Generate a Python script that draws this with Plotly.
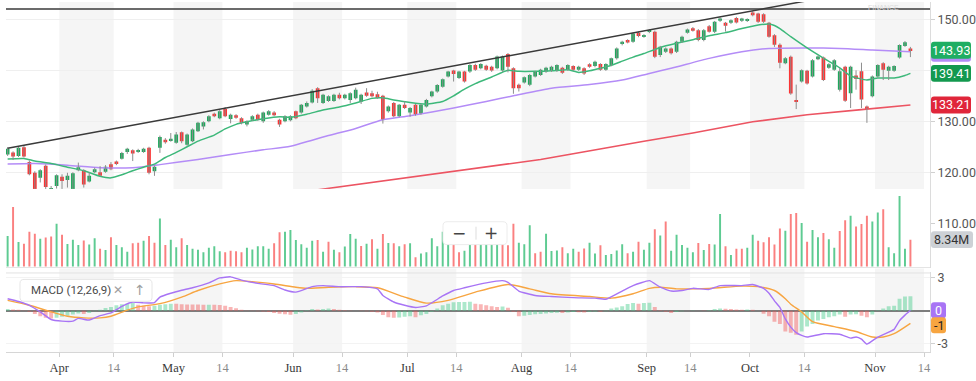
import pandas as pd
import plotly.graph_objects as go

# ---------------- data ----------------
holidays = ["2018-03-30", "2018-05-28", "2018-07-04", "2018-09-03"]
dates = list(pd.bdate_range("2018-03-16", "2018-11-14", freq="C", holidays=holidays))

opens = [123.5,123.9,123.2,124.9,122.0,119.9,118.9,121.3,116.3,117.3,
 119.1,118.5,116.7,120.4,120.4,118.2,120.0,120.0,120.1,121.55,
 122.1,122.65,124.0,124.3,124.0,124.0,124.8,120.2,124.8,126.4,
 126.3,125.8,127.85,125.4,126.1,128.05,129.0,130.0,131.5,130.6,
 132.4,130.45,131.2,130.6,129.35,130.3,131.3,130.0,131.3,131.75,
 130.3,130.0,130.2,131.95,131.75,132.9,133.7,136.5,133.6,134.0,
 134.0,135.2,134.5,134.2,134.5,133.9,135.65,135.5,135.3,135.0,
 131.95,133.6,131.0,133.25,131.75,133.25,131.5,132.9,134.9,135.85,
 136.8,138.8,139.95,138.5,139.75,139.75,141.05,140.4,140.9,140.7,
 140.4,139.95,143.2,140.4,137.15,137.6,137.15,138.8,139.1,139.75,
 139.95,139.95,140.5,140.1,140.85,140.1,140.4,141.2,140.85,141.25,
 140.1,141.05,142.35,145.15,145.94,145.6,147.37,146.6,147.56,147.56,
 143.0,143.66,144.3,143.66,145.6,147.37,148.28,147.89,145.94,148.67,
 147.56,149.71,149.32,149.32,150.29,149.71,149.71,151.33,151.13,151.0,
 149.32,146.9,145.0,141.38,142.68,134.1,137.8,139.9,138.8,142.2,
 142.5,140.5,140.1,136.2,140.7,135.5,138.98,139.8,132.9,134.9,
 138.8,141.4,139.9,139.9,142.5,144.8,144.3]
closes = [124.6,123.1,124.8,123.1,119.6,116.7,120.4,117.1,116.9,119.4,
 118.3,119.3,119.8,121.0,117.6,119.3,120.6,119.3,121.1,120.6,
 121.6,123.8,124.6,123.7,124.3,124.6,119.9,121.1,126.9,125.9,
 126.6,127.4,126.1,127.4,128.4,129.7,129.8,131.0,131.0,131.95,
 131.0,131.3,130.7,129.7,130.0,131.0,130.3,131.75,131.95,131.2,
 129.35,131.0,131.0,130.6,133.25,133.6,136.0,134.5,135.2,134.9,
 135.2,134.5,135.2,135.5,136.2,135.2,135.0,134.9,134.6,130.3,
 132.9,131.0,133.25,132.6,132.6,131.3,133.25,134.2,135.85,137.1,
 138.25,139.75,139.3,139.75,137.8,141.05,140.1,141.25,140.1,139.95,
 142.7,142.7,140.7,136.5,136.5,138.65,139.1,139.75,140.1,140.5,
 140.7,141.05,139.55,141.05,140.1,140.7,139.4,140.7,141.7,140.1,
 141.25,142.35,144.3,145.6,145.48,147.23,146.72,146.9,147.89,142.68,
 144.63,144.3,143.33,145.6,146.59,148.02,147.76,145.94,147.89,147.56,
 149.51,150.16,148.73,149.84,149.38,150.16,150.03,150.82,149.51,149.51,
 146.6,145.0,141.5,142.35,135.45,133.8,140.0,137.4,142.0,142.7,
 138.1,141.2,142.0,139.8,134.05,140.7,138.3,134.3,132.6,138.8,
 141.05,140.1,140.7,140.86,144.96,145.5,143.93]
highs = [124.9,124.1,125.0,125.2,122.3,120.2,120.6,121.5,117.3,119.6,
 119.6,119.9,120.0,121.9,120.6,120.0,120.9,121.2,121.4,122.0,
 122.3,124.0,124.8,124.5,124.6,124.8,125.0,121.3,127.2,126.7,
 127.7,127.9,128.0,127.6,128.6,129.9,130.0,131.2,131.7,132.2,
 132.8,131.5,131.4,130.8,130.2,131.2,131.5,131.9,132.2,132.0,
 130.5,131.2,131.2,132.1,133.4,133.9,136.3,136.7,135.4,135.1,
 135.4,135.6,135.4,135.7,136.6,135.4,136.5,136.0,135.8,135.2,
 133.1,133.8,133.4,133.9,132.8,133.4,133.4,134.4,136.0,137.3,
 138.4,139.9,140.1,139.9,139.9,141.2,141.3,141.4,141.1,140.9,
 142.9,142.9,143.4,140.6,137.4,138.8,139.3,139.9,140.3,140.7,
 140.9,141.2,140.7,141.2,141.0,140.9,140.6,141.4,141.9,141.4,
 141.4,142.5,144.5,145.8,146.1,147.4,147.6,147.1,148.1,147.8,
 144.8,144.5,144.5,145.8,146.8,148.2,148.5,148.1,148.1,148.9,
 149.7,150.4,149.5,150.0,150.5,150.3,150.2,151.6,151.3,151.2,
 149.5,147.1,145.3,142.6,142.9,137.2,140.2,140.1,142.2,142.9,
 142.7,141.4,142.2,140.4,140.9,140.9,140.0,141.5,133.1,139.0,
 141.2,141.6,140.9,141.0,145.1,145.75,144.6]
lows = [123.2,122.4,123.0,122.9,119.4,116.5,118.0,116.7,115.9,116.8,
 116.7,117.0,116.5,120.2,117.0,118.0,119.8,119.2,119.9,120.4,
 121.4,122.5,123.6,122.2,123.8,123.8,119.6,119.3,123.8,125.6,
 126.0,125.6,125.7,125.2,125.9,127.9,128.4,129.8,130.8,130.4,
 130.8,129.6,130.5,129.4,129.0,130.1,130.1,129.7,131.1,131.0,
 128.9,129.8,130.0,130.4,131.5,132.7,133.5,133.6,133.4,133.8,
 133.8,134.3,134.3,133.6,134.3,133.4,134.8,134.7,134.4,129.55,
 131.7,130.8,130.8,132.4,130.9,131.1,131.3,132.7,134.7,135.6,
 136.6,138.6,137.8,138.3,137.6,139.5,139.9,140.2,139.9,139.7,
 140.2,139.7,139.6,135.4,135.85,137.4,136.9,138.6,138.9,139.5,
 139.7,139.7,139.3,139.9,139.9,139.9,139.1,140.5,140.6,139.9,
 139.9,140.8,142.1,144.9,145.3,145.4,146.5,146.4,147.3,142.4,
 142.6,143.4,143.1,143.4,145.4,147.2,147.6,145.7,145.7,147.4,
 147.3,149.5,147.6,149.1,149.2,149.5,149.5,150.6,149.3,149.3,
 146.4,144.6,140.4,141.2,135.2,132.4,137.6,137.2,138.6,142.0,
 137.9,140.3,139.9,135.85,133.8,132.6,136.2,132.6,129.7,134.7,
 138.6,138.1,138.1,139.7,142.3,144.6,142.6]

volume_m = [9.5,18.5,7.6,7.1,10.8,10.2,8.6,9.0,9.3,13.3,
 9.9,7.0,8.3,6.7,8.1,6.8,8.8,5.5,5.1,9.1,
 6.7,6.0,4.6,7.2,7.4,8.0,9.5,7.4,14.9,6.7,
 8.3,6.0,8.8,6.7,5.5,5.2,4.4,5.8,6.3,4.7,
 4.4,4.9,4.7,4.4,5.8,5.3,6.3,6.3,5.5,7.2,
 10.6,10.8,11.3,8.2,6.9,5.8,8.0,8.2,4.6,7.7,
 5.2,4.4,6.2,10.1,8.6,6.4,7.1,8.5,5.5,10.1,
 7.3,7.2,6.3,6.9,7.2,2.9,4.0,4.4,8.8,6.3,
 10.8,8.8,7.5,4.4,4.9,6.7,8.5,9.0,8.2,9.4,
 8.8,9.0,6.6,13.3,7.4,6.9,12.8,4.1,4.6,10.2,
 4.8,5.0,6.0,4.1,5.5,4.6,5.6,7.4,4.0,6.6,
 3.6,3.9,5.0,6.9,4.1,4.6,7.7,5.2,7.4,11.6,
 9.6,14.0,4.9,9.9,6.7,5.8,4.4,7.3,5.1,7.0,
 6.8,16.3,6.3,3.6,5.5,5.5,5.8,9.9,8.0,7.5,
 9.1,6.8,11.8,11.1,16.3,16.6,13.5,7.7,11.3,9.1,
 10.4,8.5,5.8,11.0,14.4,15.8,12.4,13.2,15.8,14.0,
 16.8,17.8,6.0,4.1,21.9,5.5,8.34]
volume_dir = list("grgrrrgrrg" "rgggrggrgr" "gggrrgrrgr" "ggrggggggg" "rrrrgggggr"
                  "rggggggrgr" "grgggrgrgr" "grgrgrgggg" "ggrrggrggg" "grrrgggrrg"
                  "ggrggrrggr" "ggggrgrggr" "grgggggrgr" "ggrgrrggrr" "rrrgrrgrgg"
                  "rggrrgrrrg" "grggggr")

ma20_idx = [0,3,5,8,11,14,17,19,21,23,25,27,29,31,33,35,38,40,42,44,47,50,52,55,58,61,64,67,69,71,
            74,77,80,82,84,86,89,92,94,97,100,103,105,107,109,111,113,115,117,120,123,126,129,132,135,
            138,140,141,142,144,147,150,153,155,158,160,163,165,166]
ma20_val = [122.6,122.7,122.2,121.7,121.0,120.3,119.2,118.9,119.5,120.3,121.0,121.6,122.9,123.9,125.0,
            126.1,127.3,128.5,129.4,129.9,130.5,130.9,130.8,131.4,132.2,132.8,133.6,134.5,134.6,134.2,
            133.7,133.4,133.9,135.0,136.3,137.4,138.7,140.0,139.8,139.8,139.9,140.1,139.6,139.9,140.4,
            141.0,141.8,142.6,143.3,144.5,145.3,146.0,146.8,147.4,148.2,148.9,149.1,148.8,148.2,146.6,
            144.4,142.4,140.5,138.9,138.1,138.5,138.5,139.0,139.41]
ma50_idx = [0,5,11,17,23,28,35,41,47,52,56,59,64,69,74,82,88,93,100,107,113,118,122,129,135,140,147,153,159,166]
ma50_val = [121.6,121.7,121.4,120.9,120.9,121.5,122.5,123.5,124.4,125.1,126.3,127.2,128.6,130.3,131.1,
            132.6,133.9,135.0,136.5,137.2,138.1,139.4,140.4,142.35,143.66,144.3,144.4,144.3,144.0,143.66]
ma200_idx = [0,20,41,59,78,98,117,126,137,147,157,166]
ma200_val = [108.3,111.2,114.3,116.9,119.6,122.5,126.1,127.7,129.9,131.3,132.3,133.21]

trend_idx = [0, 166]
trend_val = [124.7, 157.4]
resistance_level = 152.05

macd_idx = [0,2,4,6,8,10,12,13,15,17,19,21,23,25,27,28,30,32,34,37,39,41,43,46,49,51,53,56,58,61,65,68,69,
            71,73,75,77,80,82,84,88,91,92,94,97,100,104,108,110,113,115,118,120,122,124,126,129,131,135,137,
            139,140,141,142,143,144,145,146,147,150,153,155,156,157,158,160,163,164,165,166]
macd_val = [1.1,0.85,0.5,-0.1,-0.8,-0.95,-0.95,-0.7,-0.85,-0.45,-0.2,0.4,0.8,0.72,0.75,1.25,1.6,1.87,2.1,
            2.55,3.0,3.1,2.8,2.5,2.3,1.9,1.7,2.2,2.3,2.2,2.2,2.0,1.4,0.8,0.5,0.3,0.45,1.35,1.85,2.1,2.55,
            2.75,2.6,1.8,1.4,1.3,1.2,1.15,1.05,1.8,2.3,2.75,2.15,1.8,1.85,2.05,1.95,2.3,2.3,2.4,2.05,1.6,
            0.9,0.3,-0.75,-1.5,-2.0,-2.25,-2.4,-2.1,-2.15,-2.5,-2.4,-2.6,-3.05,-2.4,-1.7,-0.9,-0.4,0.05]
signal_idx = [0,4,8,11,14,17,19,22,24,28,32,35,39,42,45,49,53,55,59,64,68,73,77,81,86,92,96,100,107,111,
              115,118,120,123,129,135,138,141,143,144,146,148,152,156,159,161,163,166]
signal_val = [0.95,0.5,-0.1,-0.5,-0.65,-0.65,-0.5,0.05,0.35,0.65,1.25,1.85,2.45,2.75,2.65,2.45,2.15,2.05,
              2.15,2.2,2.1,1.25,0.7,0.95,1.7,2.4,2.0,1.55,1.3,1.15,1.55,2.05,2.15,2.0,2.05,2.25,2.2,1.85,
              1.1,0.6,-0.1,-1.0,-1.45,-1.9,-2.4,-2.4,-2.1,-1.15]
histogram = [0.15,0.12,0.08,0.02,-0.1,-0.3,-0.5,-0.65,-0.72,-0.65,
 -0.55,-0.45,-0.35,-0.25,-0.3,-0.2,-0.05,0.1,0.25,0.35,
 0.5,0.6,0.65,0.7,0.55,0.45,0.4,0.45,0.55,0.6,
 0.65,0.63,0.6,0.58,0.57,0.56,0.55,0.55,0.54,0.52,
 0.45,0.35,0.22,0.1,0.02,-0.03,-0.05,-0.08,-0.12,-0.2,
 -0.28,-0.33,-0.36,-0.3,-0.15,0.05,0.15,0.12,0.17,0.2,
 0.15,0.1,0.05,0.03,0.0,-0.03,-0.05,-0.1,-0.15,-0.4,
 -0.6,-0.65,-0.62,-0.55,-0.5,-0.6,-0.42,-0.3,-0.1,0.2,
 0.5,0.65,0.78,0.8,0.8,0.82,0.65,0.6,0.5,0.4,
 0.35,0.38,0.28,-0.1,-0.5,-0.45,-0.38,-0.32,-0.3,-0.25,
 -0.2,-0.18,-0.2,-0.15,-0.12,-0.13,-0.15,-0.1,-0.08,-0.1,
 -0.05,0.2,0.3,0.4,0.62,0.7,0.65,0.7,0.72,0.35,
 0.05,-0.1,-0.2,-0.12,-0.05,0.0,0.03,0.0,-0.02,0.05,
 0.15,0.2,0.18,0.15,0.12,0.1,0.12,0.1,0.0,-0.27,
 -0.5,-1.0,-1.2,-1.9,-2.0,-2.2,-1.9,-1.45,-1.2,-0.9,
 -0.75,-0.6,-0.5,-0.35,-0.55,-0.35,-0.33,-0.45,-0.6,-0.35,
 0.05,0.2,0.4,0.45,1.1,1.3,1.32]

tick_dates = ["2018-04-02","2018-04-16","2018-05-01","2018-05-14","2018-06-01","2018-06-14",
              "2018-07-02","2018-07-16","2018-08-01","2018-08-14","2018-09-04","2018-09-14",
              "2018-10-01","2018-10-15","2018-11-01","2018-11-14"]
tick_labels = ["Apr","14","May","14","Jun","14","Jul","14","Aug","14","Sep","14","Oct","14","Nov","14"]

# ---------------- layout geometry ----------------
W, H = 976, 381
ML, MR, MT, MB = 6, 46, 0, 29
PW, PH = W - ML - MR, H - MT - MB          # 924 x 352
X_RANGE = [-0.3, 169.6]
PRICE_RANGE = [101.12, 153.41]
VOL_RANGE = [-0.618, 24.1]
MACD_RANGE = [-3.77, 3.5]
PRICE_DOM = [1 - 268 / PH, 1]
VOL_DOM = [1 - 268 / PH, 1 - 188 / PH]
MACD_DOM = [0, 80 / PH]

def px2paper(px):
    return (px - ML) / PW

def py2paper(py):
    return (PH - (py - MT)) / PH

def val2py(v, rng, dom):
    top = (1 - dom[1]) * PH
    bot = (1 - dom[0]) * PH
    return top + (rng[1] - v) / (rng[1] - rng[0]) * (bot - top)

def rrect(x0, y0, x1, y1, r):
    P = lambda x, y: f"{px2paper(x):.5f},{py2paper(y):.5f}"
    return (f"M {P(x0 + r, y0)} L {P(x1 - r, y0)} Q {P(x1, y0)} {P(x1, y0 + r)} "
            f"L {P(x1, y1 - r)} Q {P(x1, y1)} {P(x1 - r, y1)} L {P(x0 + r, y1)} "
            f"Q {P(x0, y1)} {P(x0, y1 - r)} L {P(x0, y0 + r)} Q {P(x0, y0)} {P(x0 + r, y0)} Z")

n = len(closes)
idx = list(range(n))
pos = {d: i for i, d in enumerate(dates)}
tick_x = [pos[pd.Timestamp(d)] - 0.5 for d in tick_dates]

UP, DOWN = "#1ea85c", "#fb3434"
fig = go.Figure()

# volume
vol_colors = ["rgba(40,185,110,0.75)" if d == "g" else "rgba(248,85,85,0.75)" for d in volume_dir]
fig.add_trace(go.Bar(x=idx, y=volume_m, width=0.36, marker=dict(color=vol_colors, line=dict(width=0)),
                     yaxis="y2", hoverinfo="skip", showlegend=False))

# moving averages
fig.add_trace(go.Scatter(x=ma200_idx, y=ma200_val, mode="lines", line=dict(color="#ec5462", width=1.6),
                         yaxis="y", hoverinfo="skip", showlegend=False))
fig.add_trace(go.Scatter(x=ma50_idx, y=ma50_val, mode="lines", line=dict(color="#b48cf7", width=1.5, shape="spline", smoothing=0.6),
                         yaxis="y", hoverinfo="skip", showlegend=False))
fig.add_trace(go.Scatter(x=ma20_idx, y=ma20_val, mode="lines", line=dict(color="#3db87a", width=1.5, shape="spline", smoothing=0.5),
                         yaxis="y", hoverinfo="skip", showlegend=False))

# candles: wicks + bodies
wx, wy = [], []
for i in idx:
    wx += [i, i, None]
    wy += [lows[i], highs[i], None]
fig.add_trace(go.Scatter(x=wx, y=wy, mode="lines", line=dict(color="#8d8d8d", width=1),
                         yaxis="y", hoverinfo="skip", showlegend=False))
body_base = [min(o, c) for o, c in zip(opens, closes)]
body_h = [abs(c - o) for o, c in zip(opens, closes)]
body_col = [UP if c >= o else DOWN for o, c in zip(opens, closes)]
fig.add_trace(go.Bar(x=idx, y=body_h, base=body_base, width=0.68,
                     marker=dict(color=body_col, line=dict(width=0)),
                     yaxis="y", hoverinfo="skip", showlegend=False))

# trend line
fig.add_trace(go.Scatter(x=trend_idx, y=trend_val, mode="lines", line=dict(color="#3a3a3a", width=1.5),
                         yaxis="y", hoverinfo="skip", showlegend=False))

# MACD histogram + lines
hist_col = []
for i, h in enumerate(histogram):
    up = i == 0 or h >= histogram[i - 1]
    hist_col.append("rgba(70,205,140,0.45)" if up else "rgba(242,90,90,0.45)")
fig.add_trace(go.Bar(x=idx, y=histogram, width=0.72, marker=dict(color=hist_col, line=dict(width=0)),
                     yaxis="y3", hoverinfo="skip", showlegend=False))
fig.add_trace(go.Scatter(x=signal_idx, y=signal_val, mode="lines",
                         line=dict(color="#f7a541", width=1.4, shape="spline", smoothing=0.6),
                         yaxis="y3", hoverinfo="skip", showlegend=False))
fig.add_trace(go.Scatter(x=macd_idx, y=macd_val, mode="lines",
                         line=dict(color="#a874f5", width=1.4, shape="spline", smoothing=0.4),
                         yaxis="y3", hoverinfo="skip", showlegend=False))

shapes = []
# month shading bands (1st -> 14th)
for k in range(0, len(tick_x), 2):
    shapes.append(dict(type="rect", xref="x", yref="paper", x0=tick_x[k], x1=tick_x[k + 1], y0=0, y1=1,
                       fillcolor="#f5f5f5", line=dict(width=0), layer="below"))
# resistance line
shapes.append(dict(type="line", xref="paper", yref="y", x0=0, x1=1, y0=resistance_level, y1=resistance_level,
                   line=dict(color="#3a3a3a", width=1.6)))
# pane separators
for py, col in [(267, "#e4e4e4"), (272.5, "#e2e2e2")]:
    shapes.append(dict(type="line", xref="paper", yref="paper", x0=0, x1=1, y0=py2paper(py), y1=py2paper(py),
                       line=dict(color=col, width=1)))

annotations = []

def tag(py, text, fill, txtcol, x0=931, x1=971, h=17):
    shapes.append(dict(type="path", xref="paper", yref="paper", path=rrect(x0, py - h / 2, x1, py + h / 2, 3),
                       fillcolor=fill, line=dict(width=0), layer="above"))
    if text:
        annotations.append(dict(xref="paper", yref="paper", x=px2paper((x0 + x1) / 2), y=py2paper(py),
                                text=text, showarrow=False, xanchor="center", yanchor="middle",
                                font=dict(family="Roboto, Liberation Sans, sans-serif", size=12.5, color=txtcol)))

tag(val2py(ma50_val[-1], PRICE_RANGE, PRICE_DOM) + 1.5, "", "#b48cf7", "#fff")
tag(val2py(closes[-1], PRICE_RANGE, PRICE_DOM), f"{closes[-1]:.2f}", "#1fae62", "#ffffff")
tag(val2py(ma20_val[-1], PRICE_RANGE, PRICE_DOM), f"{ma20_val[-1]:.2f}", "#13994f", "#ffffff")
tag(val2py(ma200_val[-1], PRICE_RANGE, PRICE_DOM), f"{ma200_val[-1]:.2f}", "#e0263a", "#ffffff")
tag(val2py(volume_m[-1], VOL_RANGE, VOL_DOM), f"{volume_m[-1]:.2f}M", "#cdd1d6", "#333333", x1=973)
tag(val2py(macd_val[-1], MACD_RANGE, MACD_DOM), f"{macd_val[-1]:.0f}", "#a874f5", "#ffffff", x0=931, x1=946, h=16)
tag(val2py(signal_val[-1], MACD_RANGE, MACD_DOM) + 2, f"{signal_val[-1]:.0f}", "#f7a541", "#222222", x0=931, x1=946, h=16)

# MACD legend box
shapes.append(dict(type="path", xref="paper", yref="paper", path=rrect(20, 279, 152, 301, 4),
                   fillcolor="#ffffff", line=dict(color="#e6e6e6", width=1), layer="above"))
annotations.append(dict(xref="paper", yref="paper", x=px2paper(29), y=py2paper(290), text="MACD (12,26,9)",
                        showarrow=False, xanchor="left", yanchor="middle",
                        font=dict(family="Roboto, Liberation Sans, sans-serif", size=11.5, color="#4a4a4a")))
annotations.append(dict(xref="paper", yref="paper", x=px2paper(118), y=py2paper(290), text="✕",
                        showarrow=False, xanchor="center", yanchor="middle",
                        font=dict(family="DejaVu Sans", size=12, color="#a0a0a0")))
annotations.append(dict(xref="paper", yref="paper", x=px2paper(140), y=py2paper(290), text="↑",
                        showarrow=False, xanchor="center", yanchor="middle",
                        font=dict(family="DejaVu Sans", size=14, color="#a0a0a0")))

# zoom buttons
shapes.append(dict(type="path", xref="paper", yref="paper", path=rrect(443, 221, 507, 244, 4),
                   fillcolor="#ffffff", line=dict(color="#ececec", width=1), layer="above"))
shapes.append(dict(type="line", xref="paper", yref="paper", x0=px2paper(476), x1=px2paper(476),
                   y0=py2paper(226), y1=py2paper(239), line=dict(color="#dddddd", width=1), layer="above"))
for cx, t in [(459, "−"), (491, "+")]:
    annotations.append(dict(xref="paper", yref="paper", x=px2paper(cx), y=py2paper(232), text=t,
                            showarrow=False, xanchor="center", yanchor="middle",
                            font=dict(family="DejaVu Sans", size=17, color="#444444")))

# faint watermark at top (small so it stays inside the page)
annotations.append(dict(xref="paper", yref="paper", x=px2paper(883), y=py2paper(0.5), text="FINANCE",
                        showarrow=False, xanchor="center", yanchor="top",
                        font=dict(family="Liberation Sans", size=7, color="#dadada")))

ticktext = [f"<span style='color:#3a3a3a'>{t}</span>" if t != "14" else f"<span style='color:#8a8a8a'>{t}</span>"
            for t in tick_labels]

fig.update_layout(
    width=W, height=H, margin=dict(l=ML, r=MR, t=MT, b=MB),
    paper_bgcolor="#ffffff", plot_bgcolor="#ffffff",
    barmode="overlay", showlegend=False, hovermode=False,
    shapes=shapes, annotations=annotations,
    xaxis=dict(range=X_RANGE, anchor="y3", tickmode="array", tickvals=tick_x, ticktext=ticktext,
               ticks="outside", ticklen=4, tickcolor="#cfcfcf", showline=True, linecolor="#d6d6d6",
               showgrid=False, zeroline=False,
               tickfont=dict(family="Liberation Serif, DejaVu Serif, serif", size=12.5)),
    yaxis=dict(domain=PRICE_DOM, range=PRICE_RANGE, anchor="x", side="right",
               tickmode="array", tickvals=[110, 120, 130, 140, 150],
               ticktext=["110.00", "120.00", "130.00", "", "150.00"],
               ticks="outside", ticklen=4, tickcolor="#d0d0d0", showline=True, linecolor="#dcdcdc",
               gridcolor="#efefef", zeroline=False,
               tickfont=dict(family="Roboto, Liberation Sans, sans-serif", size=12.5, color="#555555")),
    yaxis2=dict(domain=VOL_DOM, range=VOL_RANGE, anchor="x", visible=False, showgrid=False, zeroline=False),
    yaxis3=dict(domain=MACD_DOM, range=MACD_RANGE, anchor="x", side="right",
                tickmode="array", tickvals=[-3, 0, 3], ticktext=["-3", "", "3"],
                ticks="outside", ticklen=4, tickcolor="#d0d0d0", showline=True, linecolor="#dcdcdc",
                gridcolor="#f3f3f3", zeroline=True, zerolinecolor="#7d7d7d", zerolinewidth=1.5,
                tickfont=dict(family="Roboto, Liberation Sans, sans-serif", size=12.5, color="#555555")),
)

fig.write_html("out.html", config={"displayModeBar": False},
               post_script="document.body.style.margin='0px';document.body.style.overflow='hidden';")
